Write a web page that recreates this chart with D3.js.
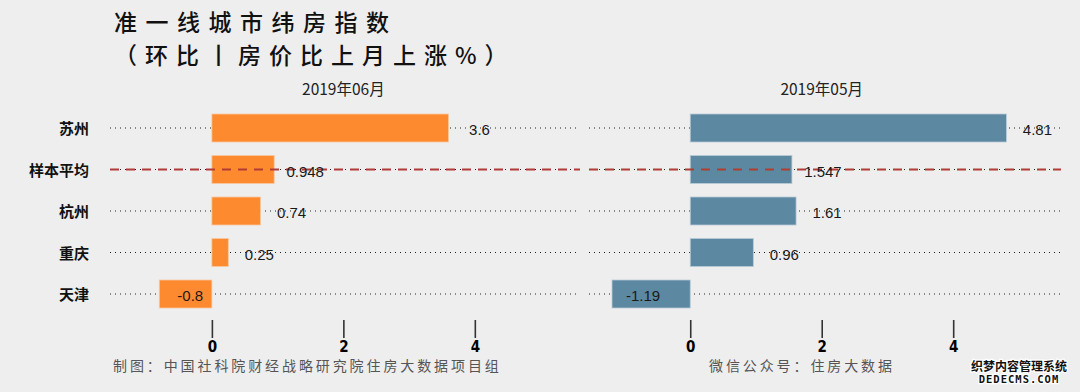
<!DOCTYPE html>
<html>
<head>
<meta charset="utf-8">
<script src="https://cdn.jsdelivr.net/npm/d3@7"></script>
<style>
  html, body { margin: 0; padding: 0; background: #eeeeee; }
  svg { display: block; }
</style>
</head>
<body>
<div id="chart"></div>
<script>
// ── Data ────────────────────────────────────────────────────
const cities   = ['苏州', '样本平均', '杭州', '重庆', '天津'];
const june     = [3.6, 0.948, 0.74, 0.25, -0.8];
const may      = [4.81, 1.547, 1.61, 0.96, -1.19];
const panelTitles = ['2019年06月', '2019年05月'];
const tickVals = [0, 2, 4];
const avgName  = '样本平均';

const width = 1080, height = 392;
const cjk  = '"Noto Sans CJK SC", sans-serif';
const latin = '"Liberation Sans", Arial, sans-serif';

const svg = d3.select('#chart')
  .append('svg')
  .attr('width', width)
  .attr('height', height);

svg.append('rect')
  .attr('width', width).attr('height', height)
  .attr('fill', '#eeeeee');

// ── Title ───────────────────────────────────────────────────
svg.append('text')
  .attr('x', 114).attr('y', 31)
  .attr('font-family', cjk)
  .attr('font-size', '23px')
  .attr('font-weight', 500)
  .attr('letter-spacing', '8.5px')
  .attr('fill', '#111')
  .text('准一线城市纬房指数');

svg.append('text')
  .attr('x', 114).attr('y', 64)
  .attr('font-family', cjk)
  .attr('font-size', '23px')
  .attr('font-weight', 500)
  .attr('letter-spacing', '8px')
  .attr('fill', '#111')
  .text('（环比丨房价比上月上涨%）');

// ── Shared y ────────────────────────────────────────────────
const y = d3.scalePoint()
  .domain(cities)
  .range([128, 294]);
const barH = 28;

// category labels
svg.append('g')
  .selectAll('text')
  .data(cities)
  .join('text')
  .attr('x', 89)
  .attr('y', d => y(d) + 6)
  .attr('text-anchor', 'end')
  .attr('font-family', cjk)
  .attr('font-size', '15px')
  .attr('font-weight', 'bold')
  .attr('fill', '#111')
  .text(d => d);

// ── Panels ──────────────────────────────────────────────────
const panels = [
  { values: june, color: '#fd8a2e', stroke: '#f7c9a2', title: panelTitles[0],
    x: d3.scaleLinear().domain([-1.55, 5.6]).range([110, 580]) },
  { values: may,  color: '#5d88a1', stroke: '#b9cbd6', title: panelTitles[1],
    x: d3.scaleLinear().domain([-1.54, 5.64]).range([589, 1061]) }
];

panels.forEach(p => {
  const x = p.x;
  const [x0, x1] = x.range();
  const rows = cities.map((c, i) => ({ city: c, value: p.values[i] }));
  const g = svg.append('g');

  // panel title
  g.append('text')
    .attr('x', x(2))
    .attr('y', 95)
    .attr('text-anchor', 'middle')
    .attr('font-family', cjk)
    .attr('font-size', '15.5px')
    .attr('fill', '#222')
    .text(p.title);

  // dotted guide lines
  g.selectAll('line.guide')
    .data(rows)
    .join('line')
    .attr('class', 'guide')
    .attr('x1', x0).attr('x2', x1)
    .attr('y1', d => y(d.city)).attr('y2', d => y(d.city))
    .attr('stroke', '#222')
    .attr('stroke-width', 1)
    .attr('stroke-dasharray', '1,4');

  // bars
  g.selectAll('rect.bar')
    .data(rows)
    .join('rect')
    .attr('class', 'bar')
    .attr('x', d => x(Math.min(0, d.value)))
    .attr('width', d => Math.abs(x(d.value) - x(0)))
    .attr('y', d => y(d.city) - barH / 2)
    .attr('height', barH)
    .attr('fill', p.color)
    .attr('stroke', p.stroke)
    .attr('stroke-width', 0.8);

  // average dashed line on top
  g.append('line')
    .attr('x1', x0).attr('x2', x1)
    .attr('y1', y(avgName)).attr('y2', y(avgName))
    .attr('stroke', '#b23b36')
    .attr('stroke-width', 2)
    .attr('stroke-dasharray', '9,7');

  // value labels
  g.selectAll('text.val')
    .data(rows)
    .join('text')
    .attr('class', 'val')
    .attr('x', d => x(d.value) + 31)
    .attr('y', d => y(d.city) + 7)
    .attr('text-anchor', 'middle')
    .attr('font-family', latin)
    .attr('font-size', '15px')
    .attr('fill', '#1a1a1a')
    .text(d => d.value);

  // ticks (no axis line)
  const ax = g.append('g')
    .attr('transform', 'translate(0,320)')
    .call(d3.axisBottom(x).tickValues(tickVals).tickSize(18).tickPadding(3).tickFormat(d3.format('d')));
  ax.select('.domain').remove();
  ax.selectAll('.tick line')
    .attr('stroke', '#333')
    .attr('stroke-width', 1.6);
  ax.selectAll('.tick text')
    .attr('fill', '#000')
    .attr('font-family', '"Liberation Sans Narrow", "DejaVu Sans Condensed", sans-serif')
    .attr('font-weight', 'bold')
    .attr('font-size', '15px');
});

// ── Captions ────────────────────────────────────────────────
svg.append('text')
  .attr('x', 113).attr('y', 371)
  .attr('font-family', cjk)
  .attr('font-size', '14px')
  .attr('letter-spacing', '2.9px')
  .attr('fill', '#555')
  .text('制图：中国社科院财经战略研究院住房大数据项目组');

svg.append('text')
  .attr('x', 709).attr('y', 371)
  .attr('font-family', cjk)
  .attr('font-size', '14px')
  .attr('letter-spacing', '2.9px')
  .attr('fill', '#555')
  .text('微信公众号：住房大数据');

// ── Watermark ───────────────────────────────────────────────
svg.append('text')
  .attr('x', 1019).attr('y', 371)
  .attr('text-anchor', 'middle')
  .attr('font-family', cjk)
  .attr('font-size', '12px')
  .attr('font-weight', 'bold')
  .attr('fill', '#111')
  .attr('stroke', '#fff')
  .attr('stroke-width', 2.5)
  .attr('paint-order', 'stroke')
  .text('织梦内容管理系统');

svg.append('text')
  .attr('x', 1019).attr('y', 383)
  .attr('text-anchor', 'middle')
  .attr('font-family', '"DejaVu Sans Mono", monospace')
  .attr('font-size', '10.5px')
  .attr('font-weight', 'bold')
  .attr('letter-spacing', '1px')
  .attr('fill', '#111')
  .attr('stroke', '#fff')
  .attr('stroke-width', 2.5)
  .attr('paint-order', 'stroke')
  .text('DEDECMS.COM');
</script>
</body>
</html>
